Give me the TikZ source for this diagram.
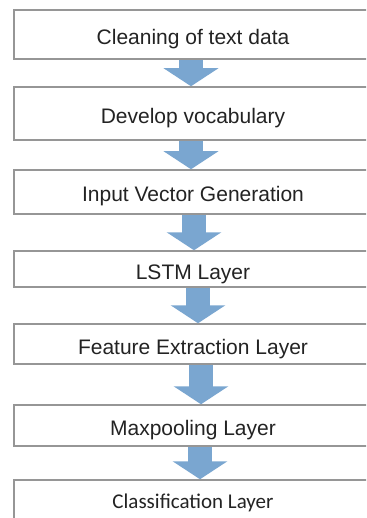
\documentclass[tikz,border=0pt]{standalone}
\usepackage{fontspec}
\setmainfont{Liberation Sans}
\newfontfamily\calfont{Carlito}
\usetikzlibrary{arrows.meta}
\definecolor{flowblue}{RGB}{122,166,208}
\definecolor{boxgray}{RGB}{150,150,150}
\definecolor{inkgray}{RGB}{35,35,35}
\begin{document}
\begin{tikzpicture}[x=1pt,y=-1pt,
  stage/.style={draw=boxgray, line width=1.5pt, fill=white, rectangle,
    inner sep=0pt, minimum width=400pt, text=inkgray,
    font=\fontsize{21}{25}\selectfont, text height=20pt, text depth=0pt},
  flow/.style={draw=flowblue, line width=24pt,
    -{Triangle[width=54pt,length=18pt]}},
]
\useasboundingbox (0,0) rectangle (366,518);
\clip (0,0) rectangle (366,518);
\fill[white] (0,0) rectangle (366,518);

% processing stages, top to bottom; they run on past the right edge
\node[stage, minimum height=49pt] (c1) at (214,34.5) {\hspace*{-42pt}Cleaning of text data};
\node[stage, minimum height=53pt] (c2) at (214,113.5) {\hspace*{-42pt}Develop vocabulary};
\node[stage, minimum height=44pt] (c3) at (214,192) {\hspace*{-42pt}Input Vector Generation};
\node[stage, minimum height=36pt] (c4) at (214,269) {\hspace*{-42pt}LSTM Layer};
\node[stage, minimum height=40pt] (c5) at (214,344) {\hspace*{-42pt}Feature Extraction Layer};
\node[stage, minimum height=41pt] (c6) at (214,425.5) {\hspace*{-42pt}Maxpooling Layer};
\node[stage, minimum height=60pt, font=\calfont\fontsize{21}{25}\selectfont,
  text height=8pt, text depth=12pt] (c7) at (214,510) {\hspace*{-42pt}Classification Layer};

% block arrows between stages
\draw[flow] ([xshift=-23pt]c1.south) -- ([xshift=-23pt]c2.north);
\draw[flow] ([xshift=-23pt]c2.south) -- ([xshift=-23pt]c3.north);
\draw[flow] ([xshift=-20pt]c3.south) -- ([xshift=-20pt]c4.north);
\draw[flow] ([xshift=-16pt]c4.south) -- ([xshift=-16pt]c5.north);
\draw[flow] ([xshift=-13pt]c5.south) -- ([xshift=-13pt]c6.north);
\draw[flow] ([xshift=-14pt]c6.south) -- ([xshift=-14pt]c7.north);
\end{tikzpicture}
\end{document}
